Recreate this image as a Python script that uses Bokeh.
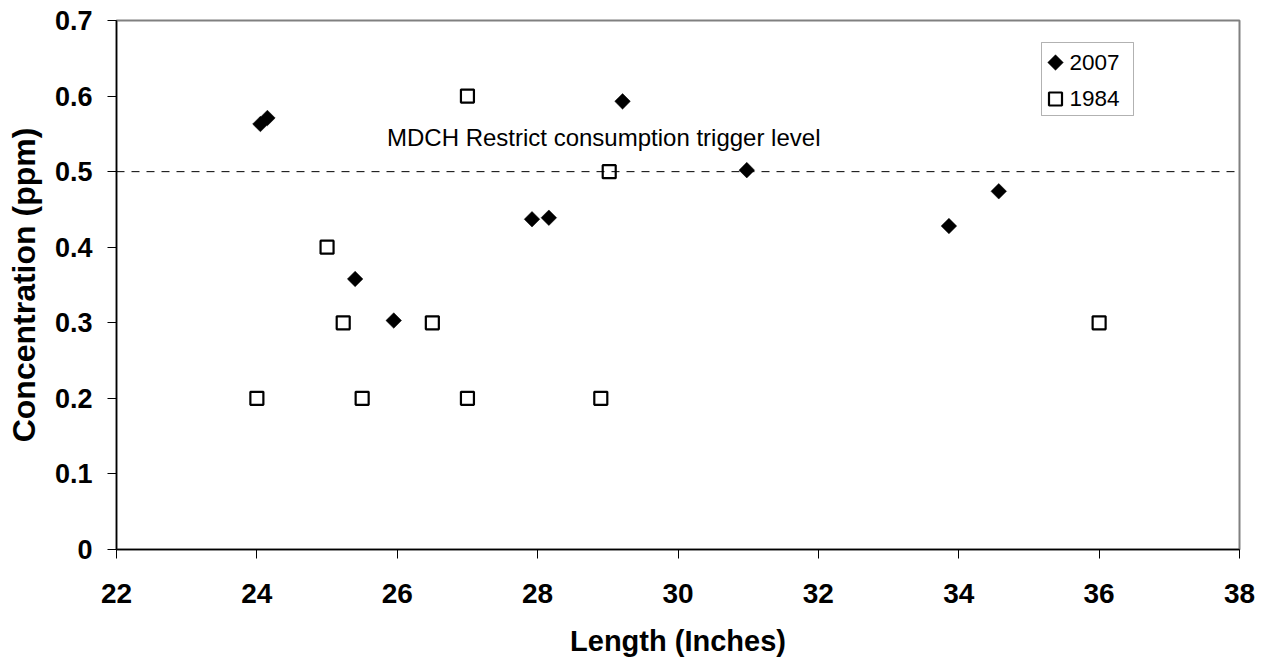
import numpy as np
from bokeh.plotting import figure
from bokeh.models import Span, Label, BoxAnnotation, FixedTicker, Range1d
from bokeh.embed import file_html
from bokeh.resources import INLINE

# ---- data ----
x2007 = [24.05, 24.15, 25.4, 25.95, 27.92, 28.16, 29.21, 30.98, 33.86, 34.57]
y2007 = [0.563, 0.571, 0.358, 0.303, 0.437, 0.439, 0.593, 0.502, 0.428, 0.474]
x1984 = [24.0, 25.0, 25.23, 25.5, 26.5, 27.0, 27.0, 28.9, 29.02, 36.0]
y1984 = [0.2, 0.4, 0.3, 0.2, 0.3, 0.6, 0.2, 0.2, 0.5, 0.3]
x_ticks = [22, 24, 26, 28, 30, 32, 34, 36, 38]
y_ticks = [0, 0.1, 0.2, 0.3, 0.4, 0.5, 0.6, 0.7]
y_tick_labels = ["0", "0.1", "0.2", "0.3", "0.4", "0.5", "0.6", "0.7"]
trigger_level = 0.5
trigger_text = "MDCH Restrict consumption trigger level"
series_names = ["2007", "1984"]

FONT = "Liberation Sans"
X0, X1, Y0, Y1 = 22, 38, 0, 0.7

# layout (px)
W, H = 1263, 663
FL, FR, FT, FB = 116, 24, 20, 114
FW, FH = W - FL - FR, H - FT - FB


def px2x(px):  # canvas px (from left) -> data x
    return X0 + (px - FL) / FW * (X1 - X0)


def px2y(py):  # canvas px (from top) -> data y
    return Y0 + (FT + FH - py) / FH * (Y1 - Y0)


p = figure(width=W, height=H, output_backend="svg", toolbar_location=None,
           x_range=Range1d(X0, X1), y_range=Range1d(Y0, Y1),
           min_border_left=FL, min_border_right=FR, min_border_top=FT, min_border_bottom=FB)

p.xgrid.visible = False
p.ygrid.visible = False
p.outline_line_color = "#808080"
p.outline_line_width = 2

# axes
for ax in (p.xaxis[0], p.yaxis[0]):
    ax.axis_line_color = "#000000"
    ax.axis_line_width = 1.5
    ax.major_tick_line_color = "#000000"
    ax.major_tick_out = 9
    ax.major_tick_in = 0
    ax.minor_tick_out = 0
    ax.minor_tick_in = 0
    ax.major_label_text_font = FONT
    ax.major_label_text_font_style = "bold"
    ax.major_label_text_color = "#000000"
    ax.axis_label_text_font = FONT
    ax.axis_label_text_font_style = "bold"
    ax.axis_label_text_color = "#000000"

p.xaxis.major_label_text_font_size = "28px"
p.yaxis.major_label_text_font_size = "27px"
p.xaxis.axis_label_text_font_size = "29px"
p.yaxis.axis_label_text_font_size = "32px"

p.xaxis.ticker = FixedTicker(ticks=x_ticks)
p.yaxis.ticker = FixedTicker(ticks=y_ticks)
p.yaxis.major_label_overrides = {t: l for t, l in zip(y_ticks, y_tick_labels)}
p.xaxis.major_label_standoff = 25
p.yaxis.major_label_standoff = 15
p.xaxis.axis_label = "Length (Inches)"
p.yaxis.axis_label = "Concentration (ppm)"
p.xaxis.axis_label_standoff = 19
p.yaxis.axis_label_standoff = 10

# trigger line
p.add_layout(Span(location=trigger_level, dimension="width", line_color="#000000",
                  line_width=1, line_dash="8 7"))
p.add_layout(Label(x=px2x(386.5), y=px2y(137), text=trigger_text, text_font=FONT,
                   text_font_size="24px", text_color="#000000", text_baseline="alphabetic"))

DIAMOND = dict(marker="square", size=11, angle=np.pi / 4, fill_color="#000000",
               line_color="#000000", line_width=0.5)
SQUARE = dict(marker="square", size=13, fill_color="#ffffff", line_color="#000000", line_width=2.2)

p.scatter(x2007, y2007, **DIAMOND)
p.scatter(x1984, y1984, **SQUARE)

# ---- legend (Excel style box, keys and labels) ----
BOX_L, BOX_R, BOX_T, BOX_B = 1041, 1133, 42, 115
KEY_X = 1055
ROW_Y = [62, 98.5]          # key centres
TEXT_X = 1069
TEXT_BASE = [61.5, 98]      # label anchor rows

p.add_layout(BoxAnnotation(left=px2x(BOX_L), right=px2x(BOX_R), top=px2y(BOX_T), bottom=px2y(BOX_B),
                           fill_color="#ffffff", fill_alpha=1, line_color="#000000", line_width=1,
                           level="glyph"))
p.scatter([px2x(KEY_X)], [px2y(ROW_Y[0])], level="overlay", **DIAMOND)
p.scatter([px2x(KEY_X)], [px2y(ROW_Y[1])], level="overlay", **SQUARE)
for name, base in zip(series_names, TEXT_BASE):
    p.add_layout(Label(x=px2x(TEXT_X), y=px2y(base), text=name, text_font=FONT,
                       text_font_size="22.5px", text_color="#000000", text_baseline="alphabetic"))

open("out.html", "w").write(file_html(p, INLINE))
